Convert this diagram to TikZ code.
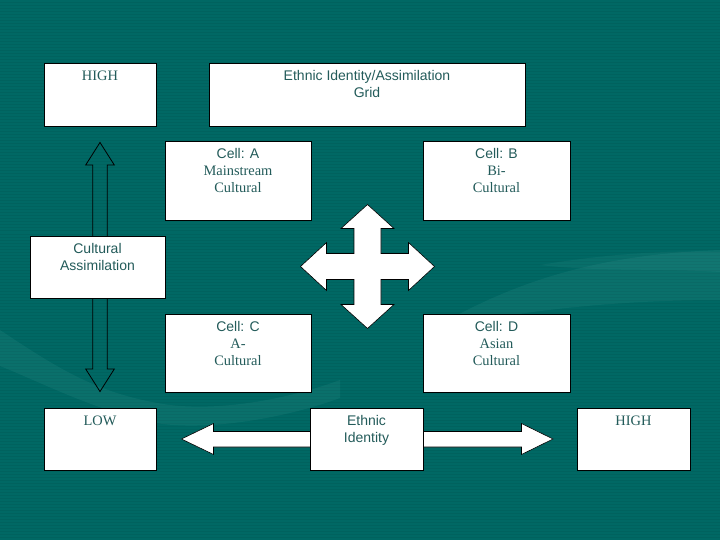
\documentclass[tikz,border=0pt]{standalone}
\usepackage{fontspec}
\setmainfont{Liberation Serif}[Scale=1.03]
\setsansfont{Liberation Sans}
\begin{document}
\begin{tikzpicture}[x=1pt,y=-1pt,
  box/.style={draw=black, fill=white, line width=0.9pt, inner sep=0pt},
  txt/.style={text=txtcol, align=center, inner sep=0pt, anchor=north,
              font=\fontsize{14}{17}\selectfont},
  bigarrow/.style={draw=black, fill=white, line width=0.6pt, line join=miter},
  outarrow/.style={draw=black, line width=0.8pt, line join=miter},
  swoosh/.style={fill=swcol, fill opacity=0.09}
]
\definecolor{bgcol}{HTML}{006864}
\definecolor{txtcol}{HTML}{235B5A}
\definecolor{swcol}{HTML}{6FC2BA}
% background
\fill[bgcol] (0,0) rectangle (720,540);
\useasboundingbox (0,0) rectangle (720,540);
\foreach \yy in {0,3,...,540} {\draw[black, opacity=0.05, line width=1pt] (0,\yy) -- (720,\yy);}
\fill[swoosh] (0,330) .. controls (60,370) and (100,395) .. (170,405)
   .. controls (230,412) and (300,395) .. (340,380) -- (340,398)
   .. controls (280,420) and (200,432) .. (150,422)
   .. controls (90,408) and (40,382) .. (0,366) -- cycle;
\fill[swoosh] (430,330) .. controls (500,290) and (580,255) .. (720,250)
   -- (720,300) .. controls (620,300) and (520,310) .. (430,330) -- cycle;
\fill[swoosh, fill opacity=0.08] (540,265) .. controls (600,255) and (660,250) .. (720,252)
   -- (720,272) .. controls (660,268) and (600,272) .. (540,265) -- cycle;

% boxes
\node[box, minimum width=112pt, minimum height=63pt] (hiL) at (100,94.5) {};
\node[box, minimum width=316pt, minimum height=63pt] (title) at (367,94.5) {};
\node[box, minimum width=146pt, minimum height=79pt] (cA) at (238,180.5) {};
\node[box, minimum width=147pt, minimum height=79pt] (cB) at (496.5,180.5) {};
\node[box, minimum width=146pt, minimum height=78pt] (cC) at (238,353) {};
\node[box, minimum width=147pt, minimum height=78pt] (cD) at (496.5,353) {};
\node[box, minimum width=112pt, minimum height=62pt] (low) at (100,439) {};
\node[box, minimum width=113pt, minimum height=62pt] (hiR) at (633.5,439) {};

% vertical outline double arrow (behind the Cultural Assimilation box)
\coordinate (vt) at ([yshift=-16pt]hiL.south);
\coordinate (vb) at ([yshift=16pt]low.north);
\draw[outarrow] (vt) -- (114.3,165) -- (107.3,165) -- (107.3,369) -- (114.3,369)
   -- (vb) -- (85.7,369) -- (92.7,369) -- (92.7,165) -- (85.7,165) -- cycle;

% horizontal double arrow (behind the Ethnic Identity box)
\coordinate (hl) at ([xshift=25pt]low.east);
\coordinate (hr) at ([xshift=-23.5pt]hiR.west);
\draw[bigarrow] (hl) -- (213.5,423.5) -- (213.5,431.5) -- (521.5,431.5) -- (521.5,423.5)
   -- (hr) -- (521.5,454.5) -- (521.5,447) -- (213.5,447) -- (213.5,454.5) -- cycle;

\node[box, minimum width=135pt, minimum height=62pt] (ca) at (97.5,267) {};
\node[box, minimum width=113pt, minimum height=62pt] (ei) at (366.5,439) {};

% four-way arrow
\coordinate (fc) at (367.5,266.5);
\draw[bigarrow] (367.5,204.5) -- (394,228.5) -- (381,228.5) -- (381,253.5) -- (408.5,253.5)
   -- (408.5,242.5) -- (434.5,266.5) -- (408.5,290.5) -- (408.5,279.5) -- (381,279.5)
   -- (381,304.5) -- (394,304.5) -- (367.5,328.5) -- (341,304.5) -- (354,304.5)
   -- (354,279.5) -- (326.5,279.5) -- (326.5,290.5) -- (300.5,266.5) -- (326.5,242.5)
   -- (326.5,253.5) -- (354,253.5) -- (354,228.5) -- (341,228.5) -- cycle;

% texts
\node[txt] (hiL-t) at ([yshift=-5.7pt]hiL.north) {\strut\rmfamily HIGH};
\node[txt] (title-t) at ([yshift=-5.7pt]title.north) {\strut\sffamily Ethnic Identity/Assimilation\\\sffamily Grid};
\node[txt] (cA-t) at ([yshift=-5.7pt]cA.north) {\strut\sffamily Cell: A\\\rmfamily Mainstream\\\rmfamily Cultural};
\node[txt] (cB-t) at ([yshift=-5.7pt]cB.north) {\strut\sffamily Cell: B\\\rmfamily Bi-\\\rmfamily Cultural};
\node[txt] (ca-t) at ([yshift=-5.7pt]ca.north) {\strut\sffamily Cultural\\\sffamily Assimilation};
\node[txt] (cC-t) at ([yshift=-5.7pt]cC.north) {\strut\sffamily Cell: C\\\rmfamily A-\\\rmfamily Cultural};
\node[txt] (cD-t) at ([yshift=-5.7pt]cD.north) {\strut\sffamily Cell: D\\\rmfamily Asian\\\rmfamily Cultural};
\node[txt] (low-t) at ([yshift=-5.7pt]low.north) {\strut\rmfamily LOW};
\node[txt] (ei-t) at ([yshift=-5.7pt]ei.north) {\strut\sffamily Ethnic\\\sffamily Identity};
\node[txt] (hiR-t) at ([yshift=-5.7pt]hiR.north) {\strut\rmfamily HIGH};
\end{tikzpicture}
\end{document}
